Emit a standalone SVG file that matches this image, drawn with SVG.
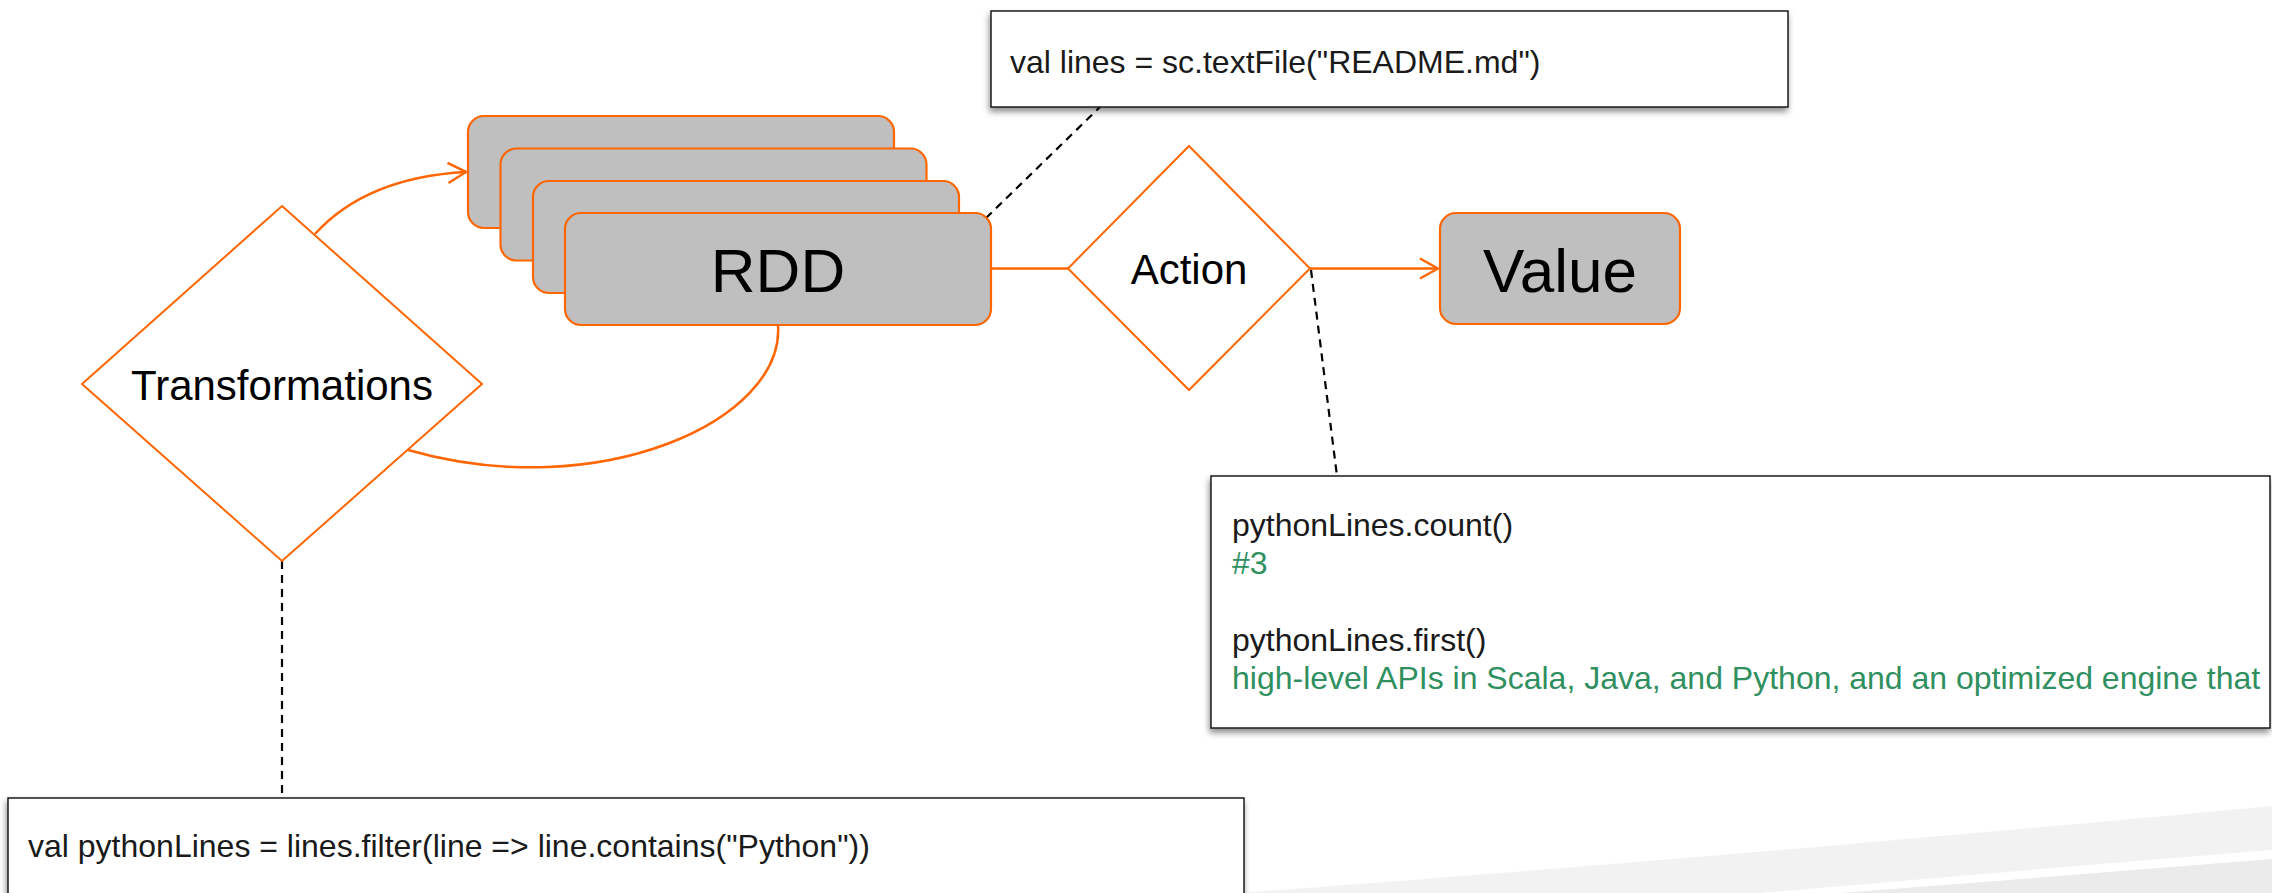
<svg xmlns="http://www.w3.org/2000/svg" width="2272" height="893" viewBox="0 0 2272 893">
  <style>
    .lbl { font-family: "Liberation Sans", Arial, sans-serif; fill: #000; }
    .code { font-family: "Liberation Sans", Arial, sans-serif; font-size: 32px; fill: #1a1a1a; }
    .out { fill: #2f8f5f; }
    .rdd { fill: #bfbfbf; stroke: #ff6600; stroke-width: 2.2; }
    .dia { fill: #fff; stroke: #ff6600; stroke-width: 2; }
    .note { fill: #fff; stroke: #1a1a1a; stroke-width: 1.5; filter: url(#shadow); }
    .flow { fill: none; stroke: #ff6600; stroke-width: 2.5; }
    .dash { fill: none; stroke: #000; stroke-width: 2.2; stroke-dasharray: 8 6; }
  </style>
  <defs>
    <filter id="shadow" x="-5%" y="-10%" width="110%" height="130%">
      <feDropShadow dx="-1" dy="4" stdDeviation="3" flood-color="#000" flood-opacity="0.45"/>
    </filter>
    <marker id="open" viewBox="-22 -12 24 24" refX="0" refY="0" markerWidth="24" markerHeight="24" markerUnits="userSpaceOnUse" orient="auto">
      <path d="M-18,-10 L0,0 L-18,10" fill="none" stroke="#ff6600" stroke-width="2.5"/>
    </marker>
  </defs>

  <rect width="2272" height="893" fill="#fff"/>

  <!-- background swoosh -->
  <g id="swoosh">
    <path d="M1240,893 Q1750,855 2272,806 L2272,850 Q2050,868 1760,893 Z" fill="#f2f2f2"/>
    <path d="M1840,893 Q2060,876 2272,859 L2272,893 Z" fill="#ebebeb"/>
  </g>

  <!-- connectors -->
  <g id="connectors">
    <path class="flow" d="M315,234 C355,190 410,175 466,172" marker-end="url(#open)"/>
    <path class="flow" d="M778,325 C785,420 600,505 408,450"/>
    <path class="flow" d="M991,268.5 L1068,268.5"/>
    <path class="flow" d="M1310,268.5 L1438,268.5" marker-end="url(#open)"/>
    <path class="dash" d="M986,218 L1100,107"/>
    <path class="dash" d="M1311,270 L1337,476"/>
    <path class="dash" d="M282,561 L282,798"/>
  </g>

  <g id="transformations">
    <polygon class="dia" points="282,206 482,384 282,561 82,384"/>
    <text class="lbl" x="282" y="400" font-size="42" text-anchor="middle">Transformations</text>
  </g>

  <g id="rdd">
    <rect class="rdd" x="468" y="116" width="426" height="112" rx="16"/>
    <rect class="rdd" x="500.5" y="148.5" width="426" height="112" rx="16"/>
    <rect class="rdd" x="533" y="181" width="426" height="112" rx="16"/>
    <rect class="rdd" x="565" y="213" width="426" height="112" rx="16"/>
    <text class="lbl" x="778" y="292" font-size="62" text-anchor="middle">RDD</text>
  </g>

  <g id="action">
    <polygon class="dia" points="1189,146 1310,268.5 1189,390 1068,268.5"/>
    <text class="lbl" x="1189" y="284" font-size="42" text-anchor="middle">Action</text>
  </g>

  <g id="value">
    <rect class="rdd" x="1440" y="213" width="240" height="111" rx="16"/>
    <text class="lbl" x="1560" y="292" font-size="62" text-anchor="middle">Value</text>
  </g>

  <g id="note-textfile">
    <rect class="note" x="991" y="11" width="797" height="96"/>
    <text class="code" x="1010" y="73">val lines = sc.textFile("README.md")</text>
  </g>

  <g id="note-actions">
    <rect class="note" x="1211" y="476" width="1059" height="252"/>
    <text class="code" x="1232" y="536">pythonLines.count()</text>
    <text class="code out" x="1232" y="574">#3</text>
    <text class="code" x="1232" y="651">pythonLines.first()</text>
    <text class="code out" x="1232" y="689">high-level APIs in Scala, Java, and Python, and an optimized engine that</text>
  </g>

  <g id="note-filter">
    <rect class="note" x="8" y="798" width="1236" height="130"/>
    <text class="code" x="28" y="857">val pythonLines = lines.filter(line =&gt; line.contains("Python"))</text>
  </g>
</svg>
